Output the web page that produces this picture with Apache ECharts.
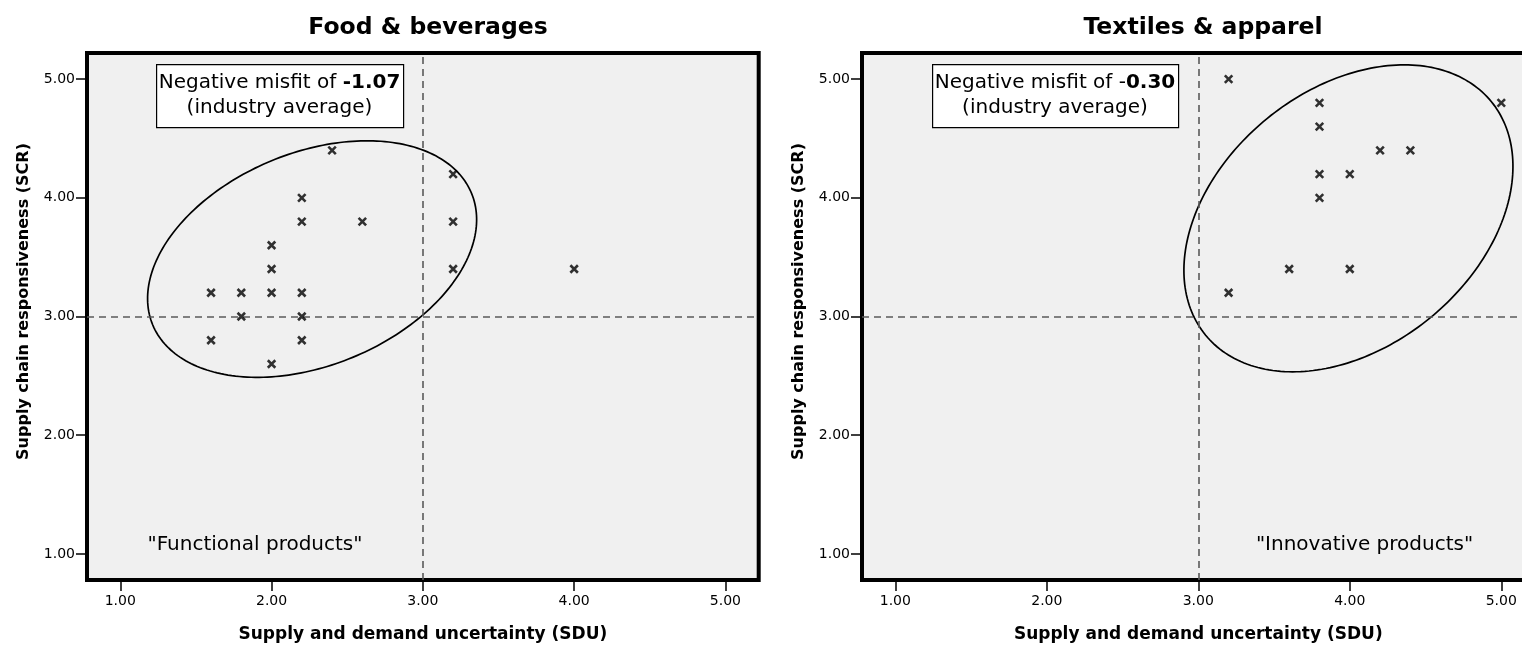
<!DOCTYPE html>
<html>
<head>
<meta charset="utf-8">
<script src="https://cdn.jsdelivr.net/npm/echarts@6/dist/echarts.min.js"></script>
<style>
html,body{margin:0;padding:0;background:#fff;}
#chart{width:1522px;height:649px;}
</style>
</head>
<body>
<div id="chart"></div>
<script>
// ---- data ----
const panelTitles = ['Food & beverages', 'Textiles & apparel'];
const xAxisName = 'Supply and demand uncertainty (SDU)';
const yAxisName = 'Supply chain responsiveness (SCR)';
const tickValues = [1, 2, 3, 4, 5];

const foodSDU = [1.6, 1.6, 1.8, 1.8, 2.0, 2.0, 2.0, 2.0, 2.2, 2.2, 2.2, 2.2, 2.2, 2.4, 2.6, 3.2, 3.2, 3.2, 4.0];
const foodSCR = [3.2, 2.8, 3.2, 3.0, 3.6, 3.4, 3.2, 2.6, 4.0, 3.8, 3.2, 3.0, 2.8, 4.4, 3.8, 4.2, 3.8, 3.4, 3.4];

const textSDU = [3.2, 3.2, 3.6, 3.8, 3.8, 3.8, 3.8, 4.0, 4.0, 4.2, 4.4, 5.0];
const textSCR = [5.0, 3.2, 3.4, 4.8, 4.6, 4.2, 4.0, 4.2, 3.4, 4.4, 4.4, 4.8];

const referenceSDU = 3;
const referenceSCR = 3;

// ellipse annotations: center in data units, semi-axes in x-axis units, rotation in degrees
const foodEllipse = [2.268, 3.484, 1.140, 0.703, 22.4];
const textEllipse = [3.991, 3.827, 1.218, 0.850, 39.2];

const misfitValues = ['-1.07', '0.30'];
const quadrantLabels = ['"Functional products"', '"Innovative products"'];

// ---- chart ----
const FONT = 'DejaVu Sans';
const zip = (a, b) => a.map((v, i) => [v, b[i]]);

const grids = [
  {left: 87, top: 53, width: 671.7, height: 527},
  {left: 862, top: 53, width: 672.6, height: 527}
];

function makeX(i) {
  return {
    type: 'value', gridIndex: i, min: 0.78, max: 5.22,
    name: xAxisName, nameLocation: 'middle', nameGap: 46,
    nameTextStyle: {fontFamily: FONT, fontWeight: 'bold', fontSize: 17, color: '#000'},
    axisLine: {show: false},
    axisTick: {show: true, length: 11, customValues: tickValues, lineStyle: {color: '#000', width: 1.5}},
    axisLabel: {customValues: tickValues, margin: 14, fontFamily: FONT, fontSize: 14, color: '#000',
      formatter: v => Number(v).toFixed(2)},
    splitLine: {show: false}
  };
}
function makeY(i) {
  return {
    type: 'value', gridIndex: i, min: 0.78, max: 5.22,
    name: yAxisName, nameLocation: 'middle', nameGap: 55,
    nameTextStyle: {fontFamily: FONT, fontWeight: 'bold', fontSize: 16, color: '#000', padding: [0, 0, 0, 30]},
    axisLine: {show: false},
    axisTick: {show: true, length: 11, customValues: tickValues, lineStyle: {color: '#000', width: 1.5}},
    axisLabel: {customValues: tickValues, margin: 12, fontFamily: FONT, fontSize: 14, color: '#000',
      formatter: v => Number(v).toFixed(2)},
    splitLine: {show: false}
  };
}

const crossPath = 'path://M0,0L10,10M10,0L0,10';

function scatterSeries(i, xs, ys) {
  return {
    type: 'scatter', xAxisIndex: i, yAxisIndex: i,
    data: zip(xs, ys),
    symbol: crossPath, symbolSize: 7.5,
    itemStyle: {color: '#000', borderColor: '#000', borderWidth: 2.6},
    z: 5,
    markLine: {
      silent: true, symbol: 'none', label: {show: false},
      lineStyle: {color: '#5a5a5a', type: [7, 5], width: 1.6},
      data: [{xAxis: referenceSDU}, {yAxis: referenceSCR}]
    }
  };
}

function ellipseSeries(i, e) {
  return {
    type: 'custom', xAxisIndex: i, yAxisIndex: i, silent: true, z: 4,
    data: [e],
    renderItem: function (params, api) {
      const c = api.coord([api.value(0), api.value(1)]);
      const unit = api.size([1, 1])[0];
      const a = api.value(2) * unit, b = api.value(3) * unit;
      const th = api.value(4) * Math.PI / 180;
      const pts = [];
      const n = 240;
      for (let k = 0; k < n; k++) {
        const t = 2 * Math.PI * k / n;
        const ex = a * Math.cos(t), ey = b * Math.sin(t);
        pts.push([c[0] + ex * Math.cos(th) - ey * Math.sin(th),
                  c[1] - (ex * Math.sin(th) + ey * Math.cos(th))]);
      }
      return {type: 'polygon', shape: {points: pts},
        style: {fill: 'none', stroke: '#000', lineWidth: 1.7}};
    }
  };
}

function boxGraphic(left, top, w, h, richText) {
  return [
    {type: 'rect', left: left, top: top, shape: {width: w, height: h},
      style: {fill: '#fff', stroke: '#000', lineWidth: 1.2}, z: 10},
    {type: 'text', x: left + w / 2, y: top + h / 2, z: 11,
      style: {text: richText, align: 'center', verticalAlign: 'middle',
        rich: {
          n: {fontFamily: FONT, fontSize: 20, fill: '#000', lineHeight: 25},
          b: {fontFamily: FONT, fontSize: 20, fontWeight: 'bold', fill: '#000', lineHeight: 25}
        }}}
  ];
}

const option = {
  backgroundColor: '#fff',
  animation: false,
  title: [
    {text: panelTitles[0], left: 423, top: 11, textAlign: 'center',
      textStyle: {fontFamily: FONT, fontWeight: 'bold', fontSize: 23.5, color: '#000'}},
    {text: panelTitles[1], left: 1198, top: 11, textAlign: 'center',
      textStyle: {fontFamily: FONT, fontWeight: 'bold', fontSize: 23.5, color: '#000'}}
  ],
  grid: grids.map(g => Object.assign({show: true, backgroundColor: '#f0f0f0', borderColor: '#000', borderWidth: 4,
    outerBoundsMode: 'none', containLabel: false}, g)),
  xAxis: [makeX(0), makeX(1)],
  yAxis: [makeY(0), makeY(1)],
  series: [
    ellipseSeries(0, foodEllipse),
    scatterSeries(0, foodSDU, foodSCR),
    ellipseSeries(1, textEllipse),
    scatterSeries(1, textSDU, textSCR)
  ],
  graphic: [].concat(
    boxGraphic(156, 64, 247, 63, '{n|Negative misfit of }{b|' + misfitValues[0] + '}\n{n|(industry average)}'),
    boxGraphic(932, 64, 246, 63, '{n|Negative misfit of -}{b|' + misfitValues[1] + '}\n{n|(industry average)}'),
    [
      {type: 'text', x: 255, y: 545, z: 11,
        style: {text: quadrantLabels[0], align: 'center', verticalAlign: 'middle', fontFamily: FONT, fontSize: 20, fill: '#000'}},
      {type: 'text', x: 1364.5, y: 545, z: 11,
        style: {text: quadrantLabels[1], align: 'center', verticalAlign: 'middle', fontFamily: FONT, fontSize: 20, fill: '#000'}}
    ]
  )
};

const chart = echarts.init(document.getElementById('chart'), null, {renderer: 'canvas'});
chart.setOption(option);
</script>
</body>
</html>
